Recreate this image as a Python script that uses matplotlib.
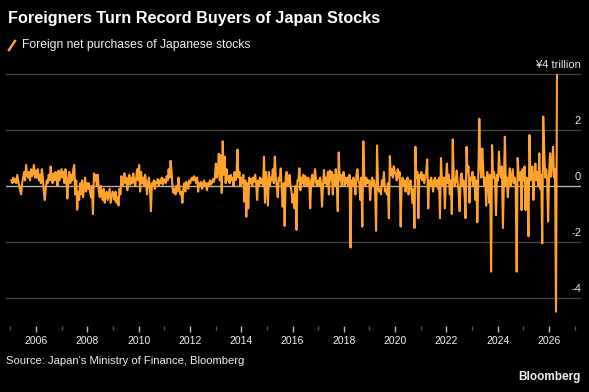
import pandas as pd
import matplotlib
matplotlib.use("Agg")
import matplotlib.pyplot as plt
import matplotlib.dates as md
from matplotlib.lines import Line2D

plt.rcParams["font.family"] = ["Liberation Sans", "DejaVu Sans"]

# Foreign net purchases of Japanese stocks, trillion yen
# (about one value every two weeks, starting mid-January 2005)
y2005 = [0.2, 0.1, 0.3, 0.15, 0.25, 0.1, 0.4, 0.2, 0.0, -0.15, -0.3, 0.1, 0.3,
         0.5, 0.2, 0.75, 0.4, 0.3, 0.5, 0.2, 0.6, 0.35, 0.5, 0.75, 0.3, 0.55]
y2006 = [0.3, 0.6, 0.2, 0.4, 0.1, 0.6, 0.3, -0.2, -0.5, -0.1, 0.2, 0.1, 0.4,
         0.2, 0.7, 0.3, 0.1, 0.45, 0.2, 0.5, 0.3, 0.0, 0.55, 0.2, 0.4, 0.6]
y2007 = [0.3, 0.5, 0.1, 0.6, 0.2, -0.45, 0.3, 0.5, 0.1, 0.4, 0.2, 0.6, 0.75,
         -0.3, 0.2, -0.85, -0.2, -0.5, 0.1, -0.3, 0.2, -0.4, -0.1, 0.3, -0.2, 0.1]
y2008 = [-0.1, 0.1, -0.2, -0.4, 0.0, -1.0, 0.45, 0.2, 0.4, 0.0, 0.4, -0.2, -0.4,
         0.0, -0.3, -0.5, -0.1, -0.6, -0.3, -0.2, -0.5, -0.3, -0.1, -0.6, -0.4, -0.2]
y2009 = [-0.3, -0.5, -0.2, -0.6, -0.4, -0.7, -0.1, -0.3, 0.35, 0.0, 0.2, 0.45, 0.1,
         0.3, -0.15, 0.2, 0.4, 0.05, 0.3, 0.1, 0.45, 0.2, 0.0, 0.3, 0.6, 0.2]
y2010 = [0.75, -0.2, 0.5, 0.1, 0.3, 0.0, 0.4, 0.2, -0.3, 0.1, 0.3, -0.1, -0.9,
         0.1, 0.0, 0.2, -0.1, 0.15, 0.1, 0.25, 0.0, 0.2, 0.1, 0.3, 0.05, 0.25]
y2011 = [0.2, 0.1, 0.35, 0.2, 0.6, 0.3, 0.9, 0.5, -0.1, -0.25, -0.1, -0.3, 0.0,
         -0.2, 0.3, -0.1, -0.3, -0.2, -0.6, -0.1, 0.1, -0.2, 0.15, 0.0, -0.1, 0.2]
y2012 = [0.1, 0.25, 0.3, 0.2, 0.35, 0.25, 0.1, 0.3, -0.2, 0.1, 0.0, 0.15, -0.1,
         0.05, 0.2, 0.0, 0.1, -0.15, 0.1, 0.0, 0.2, 0.05, 0.1, 0.25, 0.15, 0.3]
y2013 = [0.8, 0.3, 0.5, 1.15, 0.2, 1.1, -0.25, 1.6, 0.4, 1.05, 0.1, 0.6, 0.2,
         0.35, 0.1, 0.4, 0.2, 0.3, 0.0, 0.5, 0.2, 0.35, 1.3, 0.3, 0.5, 0.0]
y2014 = [0.3, 0.1, 0.4, -0.56, 0.2, -1.1, 0.1, -0.8, 0.3, 0.1, 0.25, 0.0, 0.3,
         0.15, 0.4, 0.1, -0.5, 0.2, 0.0, 0.3, 0.1, 0.25, 0.0, 1.05, -0.6, 0.5]
y2015 = [0.1, -0.7, 0.5, 0.0, 0.3, 0.2, 0.6, 0.1, 1.05, 0.3, 0.0, -0.4, 0.3,
         0.2, 0.63, -0.1, -0.74, 0.1, -1.43, 0.3, 0.5, 0.0, 0.1, 0.4, 0.0, -0.2]
y2016 = [-0.6, -0.3, -0.8, 0.0, -1.57, 0.2, 0.2, 0.63, -0.15, 0.3, 0.1, 0.4, 0.0,
         0.35, 0.2, 0.0, 0.3, 0.1, -0.8, 0.2, 0.4, 0.0, 0.3, 0.6, 0.1, 0.0]
y2017 = [0.2, 0.0, 0.3, 0.1, -0.74, 0.0, 0.57, 0.1, 0.3, 0.0, 0.5, -0.3, 0.55,
         0.2, 0.5, -0.3, 0.4, 0.0, 0.6, 0.1, -0.9, 1.2, 0.2, 0.4, 0.0, 0.3]
y2018 = [0.5, 0.0, 0.3, 0.1, 0.3, 0.0, 0.4, -2.2, 0.2, 0.0, 0.3, 0.1, -0.3,
         0.4, 0.6, 0.2, 0.1, -0.5, 0.3, -1.45, 1.6, 0.4, 0.0, 0.3, 0.1, 0.2]
y2019 = [0.2, -0.5, 0.1, 0.3, 0.0, 0.2, -0.2, -1.6, 1.45, 0.0, -0.2, -0.1, -0.3,
         0.2, 0.0, 0.5, -0.2, -0.1, -0.3, 0.1, -1.15, 1.07, 0.4, 0.6, 0.3, 0.7]
y2020 = [0.5, 0.4, 0.2, 0.6, 0.3, 0.5, -1.45, 0.1, 0.3, 0.0, 0.2, -0.2, 0.1,
         0.3, -0.3, 0.0, 0.2, -0.2, -0.6, -0.1, -1.5, 1.4, 0.3, 0.5, -1.15, 0.4]
y2021 = [0.3, 0.5, 0.2, 0.4, 0.1, 0.3, 0.5, 0.95, -0.8, 0.2, 0.0, 0.3, 0.1,
         -0.2, 0.2, 0.3, 0.0, 0.2, -0.1, 0.3, -1.15, 1.0, 0.2, 0.0, 0.3, -0.8]
y2022 = [0.2, 0.8, 0.1, 0.4, -0.3, 0.2, -1.0, 1.67, 0.3, 0.0, 0.2, 0.55, 0.1,
         -0.2, -0.9, 0.3, 0.45, 0.0, 0.2, -0.3, -1.15, 1.4, 0.5, 0.7, -0.6, 0.3]
y2023 = [0.2, 0.5, 0.0, 0.33, -0.5, 0.2, -1.3, 0.4, 2.4, 0.7, 0.3, 1.34, 0.6,
         0.0, 0.3, -0.7, 0.5, 0.3, -0.6, 0.4, -3.06, 1.46, 0.3, 0.5, 0.2, -1.04]
y2024 = [0.4, 0.2, 1.23, 0.5, 0.3, 0.7, -1.5, 0.1, 1.76, 0.0, 0.3, -0.4, 0.2,
         0.63, 0.0, 0.3, 0.6, 0.1, 0.3, 0.0, -3.06, 1.0, 0.4, 0.2, 0.5, -0.86]
y2025 = [0.6, 0.2, 0.7, -0.86, 0.3, 0.0, -1.8, 1.82, 0.2, 0.5, 0.7, -0.5, 0.3,
         0.8, 0.2, 0.5, 0.0, 1.17, -0.1, 0.4, -2.05, 2.48, 1.3, 0.3, 0.6, 0.2]
y2026 = [-1.27, 0.5, 1.17, 0.33, 0.8, 1.4, 0.3, 0.6, -4.49, 3.96]

values = (y2005 + y2006 + y2007 + y2008 + y2009 + y2010 + y2011 + y2012 + y2013
          + y2014 + y2015 + y2016 + y2017 + y2018 + y2019 + y2020 + y2021 + y2022
          + y2023 + y2024 + y2025 + y2026)
dates = pd.date_range("2005-01-14", periods=len(values), freq="14D")

y_ticks = [4, 2, 0, -2, -4]
y_labels = ["¥4 trillion", "2", "0", "-2", "-4"]

bg = "black"
orange = "#ffa22e"

fig = plt.figure(figsize=(5.89, 3.92), dpi=100, facecolor=bg)
ax = fig.add_axes([6 / 589, 1 - 326 / 392, 575 / 589, 266 / 392])
ax.set_facecolor(bg)

for v in y_ticks:
    if v == 0:
        ax.axhline(v, color="#b4b4b4", lw=1.0, zorder=1)
    else:
        ax.axhline(v, color="#444444", lw=1.0, zorder=1)

ax.plot(dates, values, color=orange, lw=1.5, zorder=3)

ax.set_ylim(-5.0, 4.5)
ax.set_xlim(pd.Timestamp("2004-10-30"), pd.Timestamp("2027-04-01"))
ax.set_yticks([])

for v, lab in zip(y_ticks, y_labels):
    ax.annotate(lab, xy=(1.0, v), xycoords=("axes fraction", "data"),
                xytext=(0, 3), textcoords="offset points",
                ha="right", va="bottom", color="#e6e6e6", fontsize=8)

ax.xaxis.set_major_locator(md.YearLocator(2))
ax.xaxis.set_minor_locator(md.YearLocator(1))
ax.xaxis.set_major_formatter(md.DateFormatter("%Y"))
ax.tick_params(axis="x", which="major", colors="#bbbbbb", length=4, width=1,
               pad=3, labelsize=7.5, labelcolor="#f0f0f0")
ax.tick_params(axis="x", which="minor", colors="#555555", length=3, width=1)

for s in ax.spines.values():
    s.set_visible(False)

fig.text(8 / 589, 1 - 18 / 392, "Foreigners Turn Record Buyers of Japan Stocks",
         color="white", fontsize=11.7, fontweight="bold", va="center", ha="left")
fig.add_artist(Line2D([9 / 589, 15 / 589], [1 - 50 / 392, 1 - 41 / 392],
                      color=orange, lw=1.8, transform=fig.transFigure))
fig.text(22 / 589, 1 - 45 / 392, "Foreign net purchases of Japanese stocks",
         color="#f0f0f0", fontsize=8.7, va="center", ha="left")
fig.text(6 / 589, 1 - 361 / 392, "Source: Japan's Ministry of Finance, Bloomberg",
         color="#f0f0f0", fontsize=8.1, va="center", ha="left")
fig.text(581 / 589, 1 - 377 / 392, "Bloomberg", color="#f0f0f0", fontsize=8.5,
         fontweight="bold", va="center", ha="right")

fig.savefig("out.png", dpi=100, facecolor=bg)
